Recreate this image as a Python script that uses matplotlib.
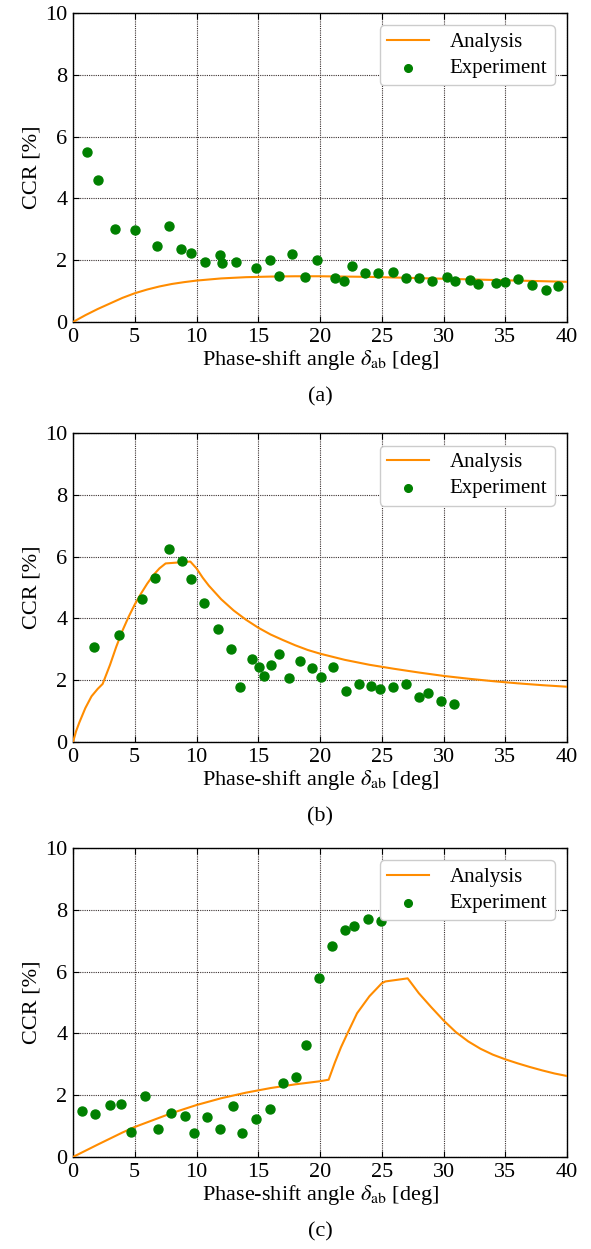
import numpy as np
import matplotlib
matplotlib.use('Agg')
import matplotlib.pyplot as plt

plt.rcParams['font.family'] = ['Liberation Serif', 'DejaVu Serif']
plt.rcParams['mathtext.fontset'] = 'stix'

# (a) data
exp_a_x = [1.16, 2.02, 3.40, 5.02, 6.80, 7.80, 8.77, 9.55, 10.69, 11.93, 12.04, 13.23,
           14.82, 15.92, 16.65, 17.71, 18.76, 19.76, 21.21, 21.94, 22.62, 23.67, 24.72,
           25.94, 27.00, 28.04, 29.10, 30.28, 30.96, 32.12, 32.82, 34.25, 35.01, 36.01,
           37.14, 38.27, 39.30]
exp_a_y = [5.50, 4.60, 3.02, 2.98, 2.45, 3.11, 2.36, 2.23, 1.93, 2.16, 1.90, 1.93,
           1.75, 2.02, 1.50, 2.21, 1.46, 2.02, 1.42, 1.33, 1.80, 1.58, 1.57,
           1.63, 1.42, 1.41, 1.34, 1.44, 1.34, 1.37, 1.23, 1.25, 1.28, 1.39,
           1.19, 1.04, 1.16]
ana_a_x = [0, 1, 2, 3, 4, 5, 6, 7, 8, 9, 10, 12, 14, 16, 18, 20, 22, 24, 26, 28, 30,
           32, 34, 36, 38, 40]
ana_a_y = [0, 0.22, 0.42, 0.60, 0.78, 0.93, 1.05, 1.15, 1.23, 1.29, 1.34, 1.41, 1.45,
           1.47, 1.48, 1.48, 1.47, 1.46, 1.44, 1.42, 1.40, 1.38, 1.36, 1.34, 1.32, 1.30]

# (b) data
exp_b_x = [1.73, 3.72, 5.61, 6.64, 7.77, 8.83, 9.58, 10.63, 11.74, 12.82, 13.55, 14.52,
           15.09, 15.49, 16.06, 16.68, 17.49, 18.41, 19.38, 20.05, 21.08, 22.11, 23.16,
           24.16, 24.89, 25.94, 26.96, 28.04, 28.74, 29.80, 30.88]
exp_b_y = [3.07, 3.45, 4.63, 5.30, 6.26, 5.86, 5.29, 4.50, 3.67, 3.00, 1.79, 2.69,
           2.42, 2.15, 2.50, 2.86, 2.06, 2.63, 2.41, 2.11, 2.42, 1.64, 1.87,
           1.81, 1.72, 1.79, 1.87, 1.45, 1.58, 1.32, 1.23]
ana_b_x = [0, 0.25, 0.5, 1, 1.5, 2, 2.4, 3, 3.5, 4, 4.5, 5, 5.5, 6, 6.5, 7, 7.5, 9.5,
           10, 10.5, 11, 12, 13, 14, 15, 16, 17, 18, 19, 20, 22, 24, 26, 28, 30, 32,
           34, 36, 38, 40]
ana_b_y = [0, 0.35, 0.62, 1.10, 1.48, 1.72, 1.88, 2.50, 3.08, 3.60, 4.05, 4.45, 4.80,
           5.12, 5.40, 5.62, 5.78, 5.84, 5.62, 5.32, 5.06, 4.62, 4.26, 3.96, 3.70, 3.48,
           3.30, 3.13, 2.98, 2.86, 2.66, 2.50, 2.37, 2.25, 2.14, 2.05, 1.97, 1.90,
           1.84, 1.79]

# (c) data
exp_c_x = [0.70, 1.78, 3.02, 3.91, 4.67, 5.83, 6.88, 7.96, 9.10, 9.77, 10.82, 11.90,
           12.96, 13.72, 14.79, 15.92, 17.03, 18.08, 18.84, 19.92, 20.97, 22.05, 22.78,
           23.86, 24.91]
exp_c_y = [1.49, 1.38, 1.68, 1.72, 0.81, 1.98, 0.91, 1.42, 1.34, 0.79, 1.28, 0.89,
           1.65, 0.77, 1.22, 1.54, 2.38, 2.58, 3.61, 5.79, 6.82, 7.33, 7.48,
           7.69, 7.62]
ana_c_x = [0, 2, 4, 5, 6, 8, 10, 12, 14, 16, 18, 20, 20.7, 21.2, 21.7, 22.2, 23, 24,
           25, 25.3, 27.1, 28, 29, 30, 31, 32, 33, 34, 35, 36, 37, 38, 39, 40]
ana_c_y = [0, 0.40, 0.79, 0.97, 1.12, 1.42, 1.68, 1.90, 2.08, 2.23, 2.35, 2.45, 2.50,
           3.05, 3.55, 3.98, 4.65, 5.20, 5.62, 5.68, 5.78, 5.30, 4.85, 4.42, 4.04,
           3.74, 3.50, 3.31, 3.16, 3.03, 2.91, 2.80, 2.70, 2.62]

panels = [
    ('(a)', ana_a_x, ana_a_y, exp_a_x, exp_a_y),
    ('(b)', ana_b_x, ana_b_y, exp_b_x, exp_b_y),
    ('(c)', ana_c_x, ana_c_y, exp_c_x, exp_c_y),
]

fig = plt.figure(figsize=(5.91, 12.49), dpi=100)
left, width, height = 73 / 591, 494 / 591, 309 / 1249
bottoms = [0.7422, 0.4059, 0.0737]

for (tag, ax_x, ax_y, ex_x, ex_y), b in zip(panels, bottoms):
    ax = fig.add_axes([left, b, width, height])
    ax.plot(ax_x, ax_y, color='#ff8c00', lw=1.5, label='Analysis', zorder=3)
    ax.scatter(ex_x, ex_y, s=42, color='green', label='Experiment', zorder=4)
    ax.set_xlim(0, 40)
    ax.set_ylim(0, 10)
    ax.set_xticks(np.arange(0, 41, 5))
    ax.set_yticks(np.arange(0, 11, 2))
    ax.grid(True, color='#3a3030', linestyle=(0, (1, 1)), linewidth=0.8)
    ax.tick_params(direction='in', labelsize=16, top=True, right=True, length=4.5, pad=4)
    ax.set_xlabel(r'Phase-shift angle $\delta_{\mathrm{ab}}$ [deg]', fontsize=16, labelpad=1)
    ax.set_ylabel('CCR [%]', fontsize=16, labelpad=3)
    for s in ax.spines.values():
        s.set_linewidth(1.0)
    ax.legend(loc='upper right', fontsize=15, handlelength=2.0, borderpad=0.35,
              labelspacing=0.3, handletextpad=1.0, framealpha=1.0, markerscale=0.85,
              borderaxespad=0.6)
    fig.text(left + width / 2, b - 0.060, tag, ha='center', va='center', fontsize=16)

fig.savefig('out.png', dpi=100)
